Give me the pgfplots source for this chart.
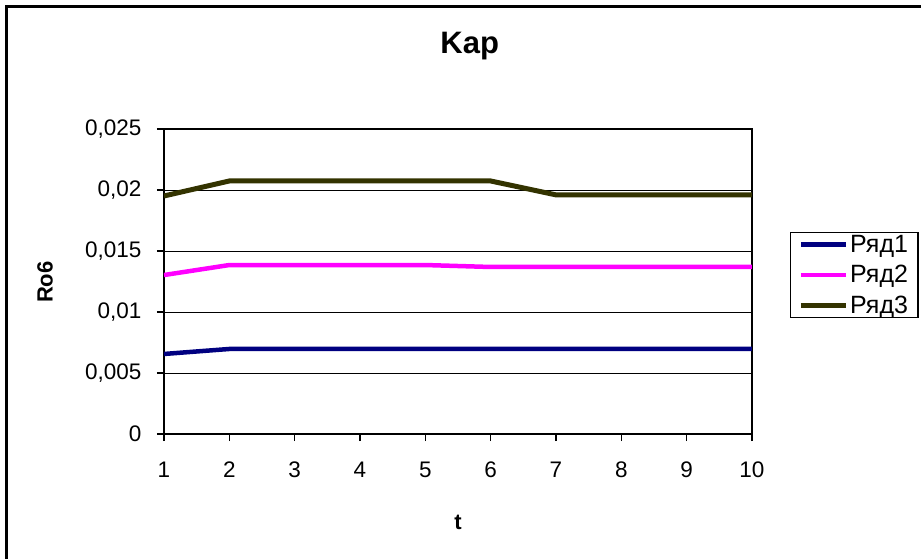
\documentclass[border=0pt]{standalone}
\usepackage{fontspec}
\setmainfont{Liberation Sans}
\usepackage{pgfplots}
\pgfplotsset{compat=1.18}
\definecolor{s1}{RGB}{0,0,128}
\definecolor{s2}{RGB}{255,0,255}
\definecolor{s3}{RGB}{51,51,0}
\begin{document}
\begin{tikzpicture}
\path[use as bounding box] (0,0) rectangle (921pt,558pt);
\fill[white] (0,0) rectangle (921pt,558pt);
\draw[line width=2.5pt] (6.5pt,-10pt) -- (6.5pt,551.5pt) -- (940pt,551.5pt);
\begin{axis}[
  at={(164pt,124pt)}, anchor=south west,
  scale only axis, width=588pt, height=305pt,
  xmin=1, xmax=10, ymin=0, ymax=0.025,
  xtick={1,...,10},
  ytick={0,0.005,0.01,0.015,0.02,0.025},
  scaled y ticks=false,
  /pgf/number format/assume math mode=true,
  tick label style={font=\fontsize{22.5}{26}\selectfont},
  xticklabel style={yshift=-17pt},
  yticklabel style={xshift=-12pt, /pgf/number format/.cd, fixed, use comma, precision=3},
  tick align=outside, major tick length=7pt,
  xtick pos=bottom, ytick pos=left,
  tick style={black, line width=1.2pt},
  axis line style={line width=1.3pt},
  ymajorgrids, major grid style={black, line width=1pt},
  title={\bfseries Kap},
  title style={font=\fontsize{31}{36}\selectfont, at={(axis description cs:0.520,1.2525)}, anchor=center},
  xlabel={\bfseries t},
  xlabel style={font=\fontsize{22}{26}\selectfont, at={(axis description cs:0.5,-0.2885)}, anchor=center},
  ylabel={\bfseries Ro6},
  ylabel style={font=\fontsize{22}{26}\selectfont, at={(axis description cs:-0.2024,0.498)}, anchor=center, rotate=0},
  legend style={at={(axis description cs:1.0646,0.6623)}, anchor=north west,
    draw=black, line width=1.3pt, font=\fontsize{25}{30}\selectfont,
    row sep=7.5pt, inner xsep=8pt, inner ysep=0.5pt},
  legend cell align=left,
  legend image code/.code={\draw[#1, line width=4.5pt] (0pt,0pt) -- (45pt,0pt);},
]
\addplot[s1, line width=4.5pt] coordinates {(1,0.00656) (2,0.00697) (3,0.00697) (4,0.00697) (5,0.00697) (6,0.00697) (7,0.00697) (8,0.00697) (9,0.00697) (10,0.00697)};
\addlegendentry{Ряд1}
\addplot[s2, line width=4.5pt] coordinates {(1,0.01303) (2,0.01385) (3,0.01385) (4,0.01385) (5,0.01385) (6,0.01369) (7,0.01369) (8,0.01369) (9,0.01369) (10,0.01369)};
\addlegendentry{Ряд2}
\addplot[s3, line width=5pt] coordinates {(1,0.01951) (2,0.02074) (3,0.02074) (4,0.02074) (5,0.02074) (6,0.02074) (7,0.0196) (8,0.0196) (9,0.0196) (10,0.0196)};
\addlegendentry{Ряд3}
\end{axis}
\end{tikzpicture}
\end{document}
